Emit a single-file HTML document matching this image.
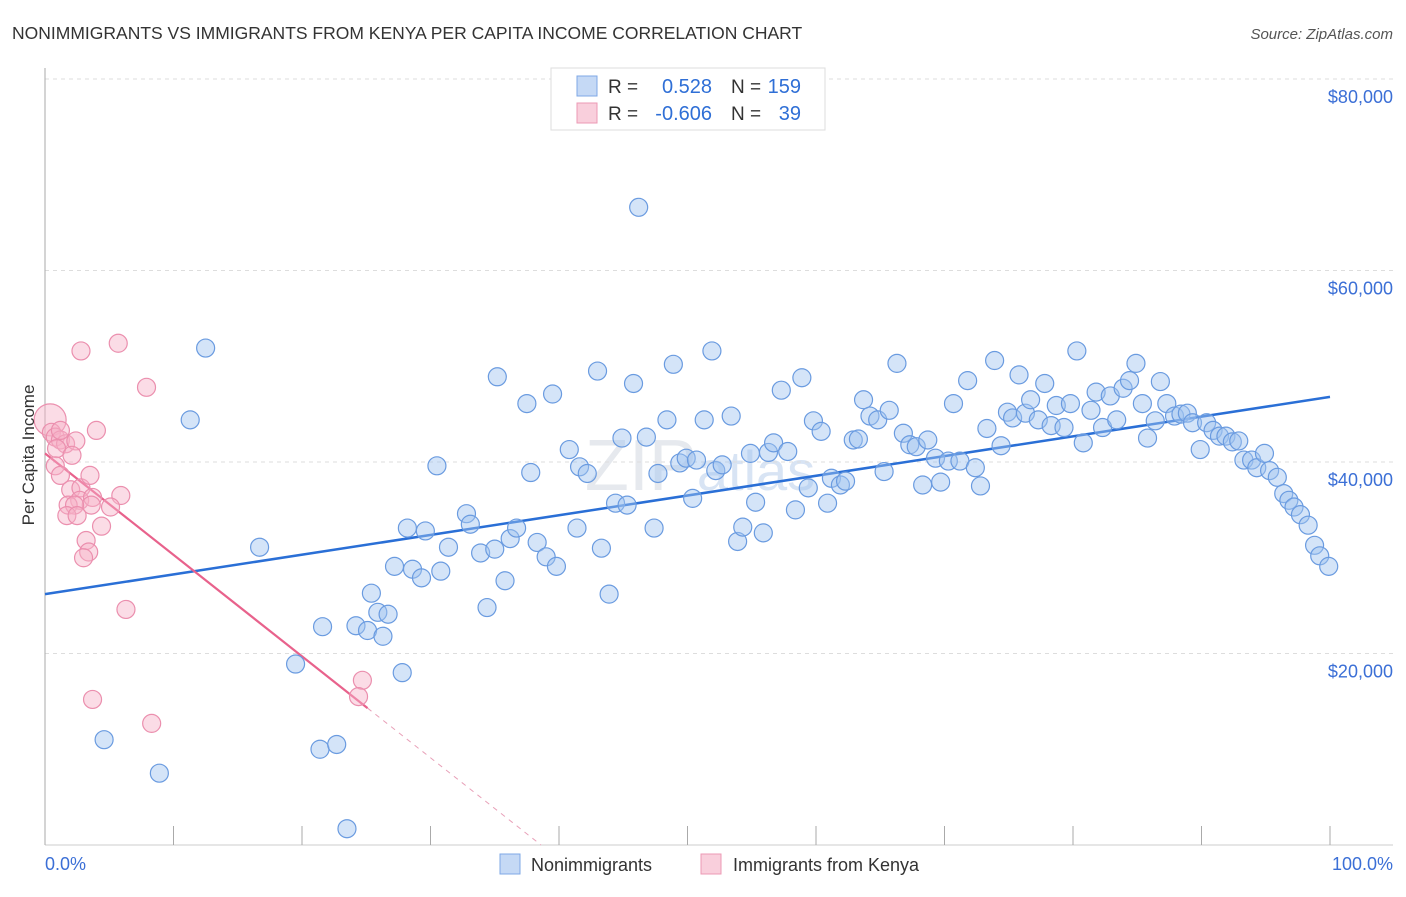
<!DOCTYPE html>
<html><head><meta charset="utf-8"><style>
body{margin:0;background:#fff;font-family:"Liberation Sans",sans-serif}
svg text{font-family:"Liberation Sans",sans-serif}
</style></head><body>
<svg id="chart" width="1406" height="892" xmlns="http://www.w3.org/2000/svg">
<text x="12" y="39" font-size="17.5" fill="#333">NONIMMIGRANTS VS IMMIGRANTS FROM KENYA PER CAPITA INCOME CORRELATION CHART</text>
<text x="1393" y="39" font-size="15" fill="#555" text-anchor="end" font-style="italic">Source: ZipAtlas.com</text>
<text x="700" y="490" font-size="72" fill="#e6e9ee" text-anchor="middle" font-family="Liberation Serif">ZIP<tspan font-family="Liberation Sans" font-size="56" fill="#d8e4f4">atlas</tspan></text>
<g id="grid"></g>
<g id="axes"></g>
<g id="blueTrend"></g>
<g id="pinkTrend"></g>
<g id="bluePts"></g>
<g id="pinkPts"></g>
<text transform="translate(34,455) rotate(-90)" font-size="17" fill="#333" text-anchor="middle">Per Capita Income</text>
<g>
<rect x="551" y="68" width="274" height="62" fill="#fff" stroke="#ddd"/>
<rect x="577" y="76" width="20" height="20" fill="#c5d9f5" stroke="#7fa8e6"/>
<rect x="577" y="103" width="20" height="20" fill="#f9cfdc" stroke="#ec9ab4"/>
<text x="608" y="93" font-size="19" fill="#333">R = </text><text x="712" y="93" font-size="20" fill="#2f6fd6" text-anchor="end">0.528</text>
<text x="731" y="93" font-size="19" fill="#333">N = </text><text x="801" y="93" font-size="20" fill="#2f6fd6" text-anchor="end">159</text>
<text x="608" y="120" font-size="19" fill="#333">R = </text><text x="712" y="120" font-size="20" fill="#2f6fd6" text-anchor="end">-0.606</text>
<text x="731" y="120" font-size="19" fill="#333">N = </text><text x="801" y="120" font-size="20" fill="#2f6fd6" text-anchor="end">39</text>
</g>
<g>
<rect x="500" y="854" width="20" height="20" fill="#c5d9f5" stroke="#7fa8e6"/>
<text x="531" y="871" font-size="18" fill="#333">Nonimmigrants</text>
<rect x="701" y="854" width="20" height="20" fill="#f9cfdc" stroke="#ec9ab4"/>
<text x="733" y="871" font-size="18" fill="#333">Immigrants from Kenya</text>
</g>
</svg>
<script>
const yTicks=[20000,40000,60000,80000];
const yTickLabels=["$20,000","$40,000","$60,000","$80,000"];
const xTickLabels=["0.0%","100.0%"];
const blueX=[46.2,12.5,11.3,16.7,4.6,8.9,19.5,21.6,21.4,22.7,23.5,24.2,25.1,26.3,25.4,25.9,26.7,27.8,27.2,28.2,28.6,29.3,29.6,30.5,30.8,31.4,32.8,33.1,33.9,34.4,35.0,35.2,35.8,36.2,36.7,37.5,37.8,38.3,39.0,39.5,39.8,40.8,41.4,41.6,42.2,43.0,43.3,43.9,44.4,45.3,44.9,45.8,46.8,47.4,47.7,48.4,48.9,49.4,49.9,50.4,50.7,51.3,51.9,52.2,52.7,53.4,53.9,54.3,54.9,55.3,55.9,56.3,56.7,57.3,57.8,58.4,58.9,59.4,59.8,60.4,60.9,61.2,61.9,62.3,62.9,63.3,63.7,64.2,64.8,65.3,65.7,66.3,66.8,67.3,67.8,68.3,68.7,69.3,69.7,70.3,70.7,71.2,71.8,72.4,72.8,73.3,73.9,74.4,74.9,75.3,75.8,76.3,76.7,77.3,77.8,78.3,78.7,79.3,79.8,80.3,80.8,81.4,81.8,82.3,82.9,83.4,83.9,84.4,84.9,85.4,85.8,86.4,86.8,87.3,87.9,88.4,88.9,89.3,89.9,90.4,90.9,91.4,91.9,92.4,92.9,93.3,93.9,94.3,94.9,95.3,95.9,96.4,96.8,97.2,97.7,98.3,98.8,99.2,99.9];
const blueY=[66.6,51.9,44.4,31.1,11.0,7.5,18.9,22.8,10.0,10.5,1.7,22.9,22.4,21.8,26.3,24.3,24.1,18.0,29.1,33.1,28.8,27.9,32.8,39.6,28.6,31.1,34.6,33.5,30.5,24.8,30.9,48.9,27.6,32.0,33.1,46.1,38.9,31.6,30.1,47.1,29.1,41.3,33.1,39.5,38.8,49.5,31.0,26.2,35.7,35.5,42.5,48.2,42.6,33.1,38.8,44.4,50.2,39.9,40.4,36.2,40.2,44.4,51.6,39.1,39.7,44.8,31.7,33.2,40.9,35.8,32.6,41.0,42.0,47.5,41.1,35.0,48.8,37.3,44.3,43.2,35.7,38.3,37.6,38.0,42.3,42.4,46.5,44.8,44.4,39.0,45.4,50.3,43.0,41.8,41.6,37.6,42.3,40.4,37.9,40.1,46.1,40.1,48.5,39.4,37.5,43.5,50.6,41.7,45.2,44.6,49.1,45.1,46.5,44.4,48.2,43.8,45.9,43.6,46.1,51.6,42.0,45.4,47.3,43.6,46.9,44.4,47.7,48.5,50.3,46.1,42.5,44.3,48.4,46.1,44.8,45.0,45.1,44.1,41.3,44.1,43.3,42.7,42.7,42.1,42.2,40.2,40.2,39.4,40.9,39.1,38.4,36.7,36.0,35.3,34.5,33.4,31.3,30.2,29.1];
const pinkX=[2.8,5.7,7.9,4.0,0.4,0.5,0.8,1.2,1.6,2.4,0.9,0.8,1.2,2.0,2.8,3.5,2.7,3.7,3.6,5.9,5.1,1.8,2.3,1.7,2.5,4.4,3.2,3.4,3.0,6.3,3.7,8.3,24.7,24.4,2.1,1.2];
const pinkY=[51.6,52.4,47.8,43.3,44.4,43.1,42.6,42.3,41.9,42.2,41.4,39.6,38.6,37.1,37.3,38.6,36.0,36.3,35.5,36.5,35.3,35.5,35.5,34.4,34.4,33.3,31.8,30.6,30.0,24.6,15.2,12.7,17.2,15.5,40.7,43.3];
const blueLine=[26.2,46.8];   // trend value (k$) at 0% and 100%
const pinkLine=[40.9,14.3,25.1,38.6]; // value at 0%, value at solid end, solid end %, zero crossing %

const NS="http://www.w3.org/2000/svg";
const X0=45,X1=1330,YB=845,PXK=191.5/20;
const sx=v=>X0+(X1-X0)*v/100;
const sy=k=>YB-k*PXK;
function mk(t,a,p){const e=document.createElementNS(NS,t);for(const k in a)e.setAttribute(k,a[k]);p.appendChild(e);return e;}
const grid=document.getElementById('grid'),axes=document.getElementById('axes');
yTicks.forEach((t,i)=>{
  const y=sy(t/1000);
  const l=mk('line',{x1:X0,x2:1393,y1:y,y2:y,stroke:'#ddd','stroke-dasharray':'4,4'},grid);
  
  
  const tx=mk('text',{x:1393,y:y+24,'font-size':18,fill:'#3b6fd6','text-anchor':'end'},grid);
  tx.textContent=yTickLabels[i];
  
  
});
mk('line',{x1:X0,x2:X0,y1:68,y2:YB,stroke:'#aaa'},axes);
mk('line',{x1:X0,x2:1393,y1:YB,y2:YB,stroke:'#ccc'},axes);
for(let i=0;i<=10;i++){const x=sx(i*10);const t=mk('line',{x1:x,x2:x,y1:826,y2:YB,stroke:'#aaa'},axes);}
const xl0=mk('text',{x:X0,y:870,'font-size':18,fill:'#3b6fd6'},axes);xl0.textContent=xTickLabels[0];


const xl1=mk('text',{x:1393,y:870,'font-size':18,fill:'#3b6fd6','text-anchor':'end'},axes);xl1.textContent=xTickLabels[1];



const bt=document.getElementById('blueTrend');
mk('line',{x1:sx(0),y1:sy(blueLine[0]),x2:sx(100),y2:sy(blueLine[1]),stroke:'#2a6fd6','stroke-width':2.5},bt);
const pt=document.getElementById('pinkTrend');
mk('line',{x1:sx(0),y1:sy(pinkLine[0]),x2:sx(pinkLine[2]),y2:sy(pinkLine[1]),stroke:'#e8628c','stroke-width':2.2},pt);
mk('line',{x1:sx(pinkLine[2]),y1:sy(pinkLine[1]),x2:sx(pinkLine[3]),y2:sy(0),stroke:'#e8a0b8','stroke-width':1,'stroke-dasharray':'5,5'},pt);

const bp=document.getElementById('bluePts');
blueX.forEach((v,i)=>{
  const c=mk('circle',{cx:sx(v),cy:sy(blueY[i]),r:9,fill:'rgba(160,196,240,0.45)',stroke:'#6a9be0','stroke-width':1.2},bp);
  
  
});
const pp=document.getElementById('pinkPts');
pinkX.forEach((v,i)=>{
  const c=mk('circle',{cx:sx(v),cy:sy(pinkY[i]),r:i===4?16:9,fill:'rgba(246,178,200,0.45)',stroke:'#eb8fae','stroke-width':1.2},pp);
  
  
});
</script>
</body></html>
